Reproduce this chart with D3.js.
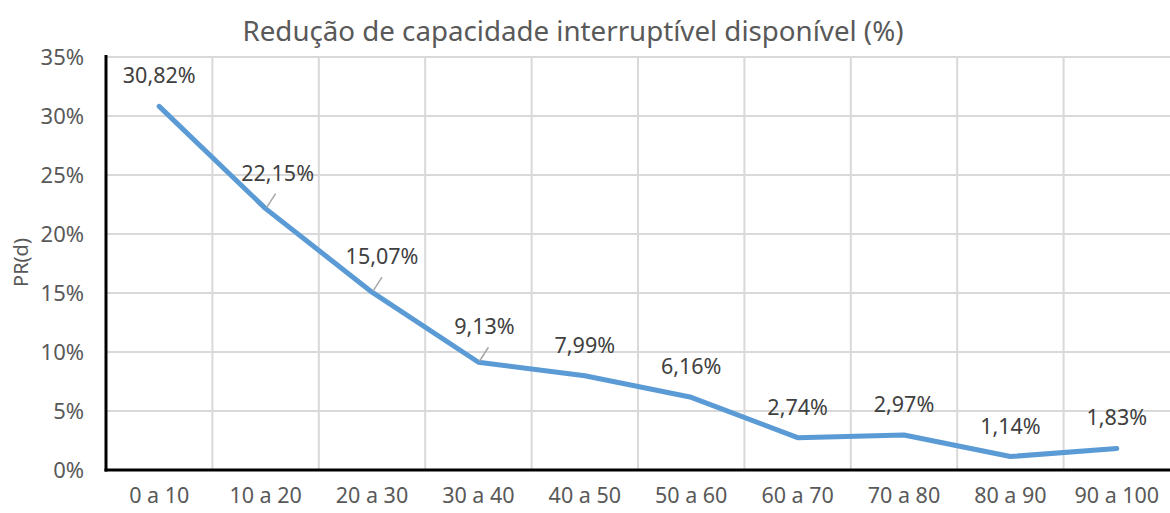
<!DOCTYPE html>
<html>
<head>
<meta charset="utf-8">
<script src="https://cdn.jsdelivr.net/npm/d3@7"></script>
<style>
  body { margin: 0; background: #fff; }
  text { font-family: "Noto Sans", sans-serif; fill: #595959; }
</style>
</head>
<body>
<div id="chart"></div>
<script>
// categories and values
var categories = ["0 a 10", "10 a 20", "20 a 30", "30 a 40", "40 a 50",
                  "50 a 60", "60 a 70", "70 a 80", "80 a 90", "90 a 100"];
var values = [30.82, 22.15, 15.07, 9.13, 7.99, 6.16, 2.74, 2.97, 1.14, 1.83];
var yTicks = [0, 5, 10, 15, 20, 25, 30, 35];

var data = categories.map(function(c, i) {
  return { name: c, value: values[i] };
});

var margin = { top: 57, right: 0, bottom: 43, left: 106 },
  width = 1170 - margin.left - margin.right,
  height = 513 - margin.top - margin.bottom;

var fmt = function(v) { return v.toFixed(2).replace(".", ",") + "%"; };

var x = d3.scaleBand().domain(categories).range([0, width]);
var y = d3.scaleLinear().domain([0, 35]).range([height, 0]);

var svg = d3.select("#chart").append("svg")
  .attr("width", 1170)
  .attr("height", 513);

svg.append("text")
  .attr("x", 573)
  .attr("y", 41)
  .attr("text-anchor", "middle")
  .style("font-size", "27.7px")
  .text("Redução de capacidade interruptível disponível (%)");

svg.append("text")
  .attr("transform", "translate(28," + (margin.top + height / 2 - 1) + ") rotate(-90)")
  .attr("text-anchor", "middle")
  .style("font-size", "20px")
  .text("PR(d)");

var g = svg.append("g")
  .attr("transform", "translate(" + margin.left + "," + margin.top + ")");

// horizontal grid
g.append("g")
  .selectAll("line")
  .data(yTicks)
  .enter().append("line")
  .attr("x1", 0).attr("x2", width)
  .attr("y1", function(d) { return y(d); })
  .attr("y2", function(d) { return y(d); })
  .attr("stroke", "#d9d9d9")
  .attr("stroke-width", 2);

// vertical grid at band edges
g.append("g")
  .selectAll("line")
  .data(categories.slice(1))
  .enter().append("line")
  .attr("x1", function(d) { return x(d); })
  .attr("x2", function(d) { return x(d); })
  .attr("y1", 0).attr("y2", height)
  .attr("stroke", "#d9d9d9")
  .attr("stroke-width", 2);

// y axis
var yAxis = d3.axisLeft(y).tickValues(yTicks).tickSize(0).tickPadding(22)
  .tickFormat(function(d) { return d + "%"; });
var ya = g.append("g").call(yAxis);
ya.select(".domain").remove();
ya.selectAll("text").style("font-size", "22px").attr("fill", "#595959");

// x axis
var xAxis = d3.axisBottom(x).tickSize(0).tickPadding(18);
var xa = g.append("g").attr("transform", "translate(0," + height + ")").call(xAxis);
xa.select(".domain").remove();
xa.selectAll("text").style("font-size", "21.5px").attr("fill", "#595959");

// axis lines
g.append("line")
  .attr("x1", 0).attr("x2", 0).attr("y1", -2).attr("y2", height + 1.5)
  .attr("stroke", "#000").attr("stroke-width", 3);
g.append("line")
  .attr("x1", -1.5).attr("x2", width).attr("y1", height).attr("y2", height)
  .attr("stroke", "#000").attr("stroke-width", 3);

// line
var line = d3.line()
  .x(function(d) { return x(d.name) + x.bandwidth() / 2; })
  .y(function(d) { return y(d.value); });

g.append("path")
  .datum(data)
  .attr("fill", "none")
  .attr("stroke", "#5b9bd5")
  .attr("stroke-width", 5)
  .attr("stroke-linecap", "round")
  .attr("stroke-linejoin", "round")
  .attr("d", line);

// data labels; a few are nudged right with a leader line, as in the picture
var nudged = { "10 a 20": 12, "20 a 30": 10, "30 a 40": 6 };

var labels = g.append("g").selectAll("g")
  .data(data)
  .enter().append("g")
  .attr("transform", function(d) {
    var cx = x(d.name) + x.bandwidth() / 2;
    return "translate(" + cx + "," + y(d.value) + ")";
  });

labels.append("text")
  .attr("x", function(d) { return nudged[d.name] || 0; })
  .attr("y", function(d) { return nudged[d.name] ? -28 : -23; })
  .attr("text-anchor", "middle")
  .style("font-size", "21.5px")
  .style("fill", "#404040")
  .text(function(d) { return fmt(d.value); });

labels.filter(function(d) { return nudged[d.name]; })
  .append("line")
  .attr("x1", 1).attr("y1", -1)
  .attr("x2", 10).attr("y2", -15)
  .attr("stroke", "#a6a6a6")
  .attr("stroke-width", 1.5);
</script>
</body>
</html>
